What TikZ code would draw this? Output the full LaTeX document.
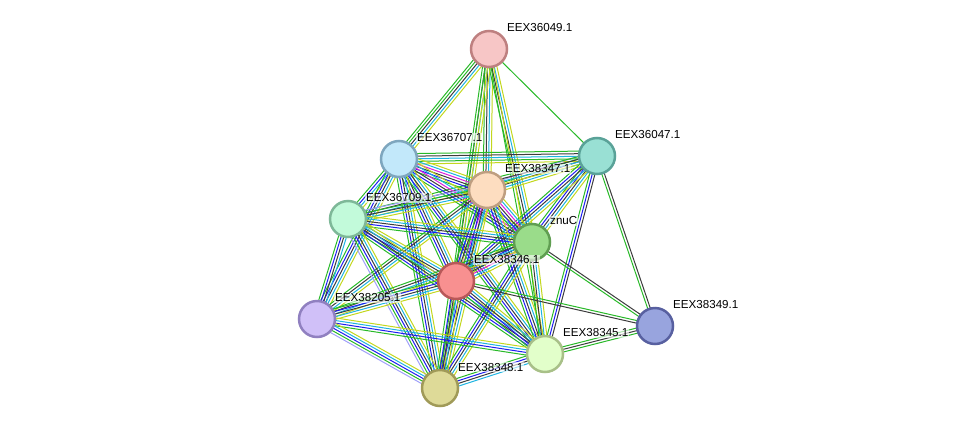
\documentclass[tikz,border=0pt]{standalone}
\usepackage{fontspec}
\setmainfont{Liberation Sans}
\usetikzlibrary{calc,backgrounds}
\definecolor{ecgreen}{RGB}{40,185,40}
\definecolor{ecblue}{RGB}{30,30,240}
\definecolor{ecblack}{RGB}{60,60,60}
\definecolor{eccyan}{RGB}{30,180,225}
\definecolor{ecyellow}{RGB}{195,215,30}
\definecolor{ecmag}{RGB}{220,30,220}
\definecolor{eclav}{RGB}{160,160,250}
\tikzset{
  prot/.style={circle,minimum size=36pt,inner sep=0pt,line width=2.5pt},
  plabel/.style={anchor=west,font=\fontsize{11.6}{13}\selectfont,fill=white,fill opacity=0.6,text opacity=1,inner xsep=1pt,inner ysep=0.5pt},
  edge/.style={line width=1pt}
}
\newcommand\ebundle[3]{%
  \gdef\ebn{0}%
  \foreach \cc in {#3}{\pgfmathtruncatemacro\ebtmp{\ebn+1}\xdef\ebn{\ebtmp}}%
  \foreach \cc [count=\ii] in {#3}{%
    \pgfmathsetmacro\ebo{(\ii-(\ebn+1)/2)*2.6}%
    \draw[edge,\cc] ($(#1.center)!\ebo pt!90:(#2.center)$) -- ($(#2.center)!\ebo pt!-90:(#1.center)$);
  }}
\begin{document}
\begin{tikzpicture}[x=1pt,y=-1pt]
\useasboundingbox (0,0) rectangle (976,434);
% nodes
\node[prot,fill={rgb,255:red,247;green,198;blue,198},draw={rgb,255:red,190;green,128;blue,128}] (A) at (489,49) {};
\node[prot,fill={rgb,255:red,153;green,224;blue,212},draw={rgb,255:red,90;green,162;blue,152}] (B) at (597,156) {};
\node[prot,fill={rgb,255:red,194;green,232;blue,250},draw={rgb,255:red,126;green,166;blue,190}] (C) at (399,159) {};
\node[prot,fill={rgb,255:red,253;green,221;blue,192},draw={rgb,255:red,190;green,158;blue,128}] (D) at (487,190) {};
\node[prot,fill={rgb,255:red,194;green,250;blue,218},draw={rgb,255:red,126;green,184;blue,152}] (E) at (348,219) {};
\node[prot,fill={rgb,255:red,154;green,220;blue,138},draw={rgb,255:red,96;green,158;blue,82}] (F) at (532,242) {};
\node[prot,fill={rgb,255:red,248;green,144;blue,144},draw={rgb,255:red,184;green,88;blue,88}] (G) at (456,281) {};
\node[prot,fill={rgb,255:red,208;green,192;blue,248},draw={rgb,255:red,144;green,128;blue,192}] (H) at (317,319) {};
\node[prot,fill={rgb,255:red,152;green,164;blue,222},draw={rgb,255:red,88;green,96;blue,160}] (I) at (655,326) {};
\node[prot,fill={rgb,255:red,226;green,255;blue,202},draw={rgb,255:red,168;green,192;blue,136}] (J) at (545,354) {};
\node[prot,fill={rgb,255:red,222;green,218;blue,152},draw={rgb,255:red,160;green,154;blue,88}] (K) at (440,388) {};
% labels
\node[plabel] (lA) at (506,28) {EEX36049.1};
\node[plabel] (lB) at (614,135) {EEX36047.1};
\node[plabel] (lC) at (416,138) {EEX36707.1};
\node[plabel] (lD) at (504,169) {EEX38347.1};
\node[plabel] (lE) at (365,198) {EEX36709.1};
\node[plabel] (lF) at (549,221) {znuC};
\node[plabel] (lG) at (473,260) {EEX38346.1};
\node[plabel] (lH) at (334,298) {EEX38205.1};
\node[plabel] (lI) at (672,305) {EEX38349.1};
\node[plabel] (lJ) at (562,333) {EEX38345.1};
\node[plabel] (lK) at (457,367) {EEX38348.1};
\begin{pgfonlayer}{background}
\ebundle{A}{B}{ecgreen}
\ebundle{A}{C}{ecgreen,ecgreen,ecblack,eccyan,ecyellow}
\ebundle{A}{D}{ecgreen,ecblack,eccyan,ecyellow}
\ebundle{A}{F}{ecgreen,ecblack,eccyan,ecyellow}
\ebundle{A}{G}{ecgreen,ecblack,eccyan,ecyellow}
\ebundle{A}{K}{ecgreen,ecyellow}
\ebundle{A}{J}{ecgreen,ecyellow}
\ebundle{B}{C}{ecgreen,ecblack,eccyan,ecgreen,ecyellow}
\ebundle{B}{D}{eclav,ecgreen,ecblack,eccyan,ecyellow}
\ebundle{B}{E}{ecgreen,ecblack,eccyan,ecyellow}
\ebundle{B}{F}{ecgreen,ecblue,ecblack,eccyan,ecyellow}
\ebundle{B}{G}{ecgreen,ecblue,ecblack,eccyan,ecyellow}
\ebundle{B}{J}{ecgreen,ecblue,ecblack}
\ebundle{B}{I}{ecgreen,ecblack}
\ebundle{C}{D}{ecgreen,ecblue,ecblack,ecmag,eccyan,ecyellow}
\ebundle{C}{E}{ecgreen,ecblue,eccyan,ecyellow}
\ebundle{C}{F}{ecgreen,ecblue,ecblack,ecmag,eccyan,ecyellow}
\ebundle{C}{G}{ecgreen,ecblue,ecblack,eccyan,ecyellow}
\ebundle{C}{H}{ecgreen,ecblue,ecblack,eccyan,ecyellow}
\ebundle{C}{J}{ecgreen,ecblue,ecblack,eccyan,ecyellow}
\ebundle{C}{K}{ecgreen,ecblue,ecblack,eccyan,ecyellow}
\ebundle{D}{E}{eclav,ecgreen,ecblack,eccyan,ecyellow}
\ebundle{D}{F}{ecgreen,ecblue,ecblack,ecmag,eccyan,ecyellow}
\ebundle{D}{G}{ecgreen,ecblue,ecblack,ecmag,eccyan,ecyellow}
\ebundle{D}{H}{ecgreen,ecblack,eccyan,ecyellow}
\ebundle{D}{J}{ecgreen,ecblue,ecblack,eccyan,ecyellow}
\ebundle{D}{K}{ecgreen,ecblue,ecblack,eccyan,ecyellow}
\ebundle{E}{F}{ecgreen,ecblue,ecblack,eccyan,ecyellow}
\ebundle{E}{G}{ecgreen,ecblue,ecblack,eccyan,ecyellow}
\ebundle{E}{H}{ecgreen,ecblue,ecblack,eccyan}
\ebundle{E}{J}{ecgreen,ecblue,ecblack,eccyan,ecyellow}
\ebundle{E}{K}{eclav,ecgreen,ecblue,ecblack,eccyan,ecyellow}
\ebundle{F}{G}{ecgreen,ecblue,ecblack,ecmag,eccyan,ecyellow}
\ebundle{F}{H}{ecgreen,ecblack,eccyan,ecyellow}
\ebundle{F}{I}{ecgreen,ecblack}
\ebundle{F}{J}{ecgreen,ecblack,eccyan,ecyellow}
\ebundle{F}{K}{ecgreen,ecblue,ecblack,eccyan,ecyellow}
\ebundle{G}{H}{ecgreen,ecblue,ecblack,eccyan,ecyellow}
\ebundle{G}{I}{ecblack,ecgreen}
\ebundle{G}{J}{ecgreen,ecblue,ecblack,eccyan,ecyellow}
\ebundle{G}{K}{ecgreen,ecblue,ecblack,eccyan,ecyellow}
\ebundle{H}{J}{ecgreen,ecblue,eccyan,ecyellow}
\ebundle{H}{K}{eclav,ecgreen,ecblue,eccyan,ecyellow}
\ebundle{I}{J}{ecgreen,ecblack,ecgreen}
\ebundle{J}{K}{ecgreen,ecblue,ecblack,eccyan}
\end{pgfonlayer}
\end{tikzpicture}
\end{document}
